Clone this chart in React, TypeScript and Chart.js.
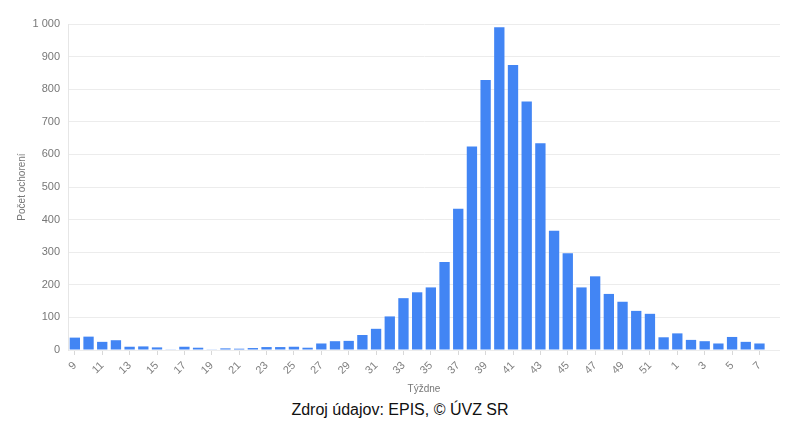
import React, { useEffect, useRef } from "react";
import { Chart, registerables } from "chart.js";

Chart.register(...registerables);

const weeks: string[] = [
  "9","10","11","12","13","14","15","16","17","18","19","20","21","22","23","24","25","26","27","28","29","30",
  "31","32","33","34","35","36","37","38","39","40","41","42","43","44","45","46","47","48","49","50","51","52",
  "1","2","3","4","5","6","7",
];
const cases: number[] = [
  38, 41, 25, 30, 10, 11, 8, 2, 10, 7, 2, 5, 4, 6, 9, 9, 10, 7, 20, 27, 28, 46,
  65, 103, 159, 177, 192, 270, 433, 624, 828, 990, 874, 762, 634, 366, 297, 192, 226, 172, 148, 120, 111, 39,
  51, 31, 27, 20, 40, 25, 20,
];
const yTitle = "Počet ochorení";
const xTitle = "Týždne";
const caption = "Zdroj údajov: EPIS, © ÚVZ SR";

const FONT = "'Liberation Sans', Arial, sans-serif";

function fmt(v: number): string {
  return String(Math.round(v)).replace(/\B(?=(\d{3})+(?!\d))/g, " ");
}

export default function App() {
  const ref = useRef<HTMLCanvasElement | null>(null);
  useEffect(() => {
    if (!ref.current) return;
    const chart = new Chart(ref.current, {
      type: "bar",
      data: {
        labels: weeks,
        datasets: [
          {
            data: cases,
            backgroundColor: "#4285F4",
            borderWidth: 0,
            barPercentage: 0.82,
            categoryPercentage: 0.92,
          },
        ],
      },
      options: {
        animation: false,
        responsive: false,
        maintainAspectRatio: false,
        layout: { padding: { top: 24, right: 20, left: 16, bottom: 0 } },
        plugins: { legend: { display: false }, tooltip: { enabled: false } },
        scales: {
          x: {
            afterBuildTicks: (s: any) => {
              // leave one empty slot of space at the right end, like the reference
              s._valueRange = weeks.length + 1;
            },
            grid: {
              display: true,
              drawOnChartArea: false,
              drawTicks: true,
              tickLength: 5,
              offset: false,
              color: (c: any) => (c.index % 2 === 0 ? "#d8d8d8" : "rgba(0,0,0,0)"),
            },
            border: { display: false },
            ticks: {
              autoSkip: false,
              maxRotation: 45,
              minRotation: 45,
              color: "#808080",
              font: { family: FONT, size: 11 },
              padding: 4,
              callback: (_v: any, i: number) => (i % 2 === 0 ? weeks[i] : ""),
            },
            title: {
              display: true,
              text: xTitle,
              color: "#777",
              font: { family: FONT, size: 10 },
              padding: { top: 0, bottom: 5 },
            },
            afterFit: (s: any) => {
              s.height = 50;
            },
          },
          y: {
            min: 0,
            max: 1000,
            ticks: {
              stepSize: 100,
              color: "#777",
              font: { family: FONT, size: 11 },
              padding: 8,
              callback: (v: any) => fmt(Number(v)),
            },
            grid: { color: "#ececec", drawTicks: false },
            border: { display: true, color: "#e6e6e6" },
            title: {
              display: true,
              text: yTitle,
              color: "#777",
              font: { family: FONT, size: 10 },
              padding: { top: 0, bottom: 0 },
            },
            afterFit: (s: any) => {
              s.width = 52;
            },
          },
        },
      },
    });
    return () => chart.destroy();
  }, []);
  return (
    <div style={{ position: "fixed", left: 0, top: 0, width: 800, height: 430, background: "#fff" }}>
      <canvas ref={ref} width={800} height={400} style={{ position: "absolute", left: 0, top: 0 }} />
      <div
        style={{
          position: "absolute",
          left: 0,
          top: 400,
          width: 800,
          textAlign: "center",
          fontFamily: FONT,
          fontSize: 16,
          lineHeight: "20px",
          color: "#111",
        }}
      >
        {caption}
      </div>
    </div>
  );
}
